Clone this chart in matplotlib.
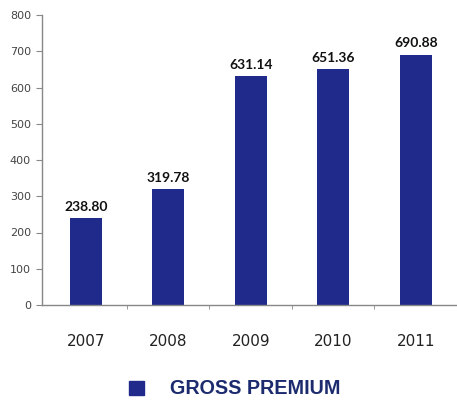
import matplotlib.pyplot as plt
import numpy as np
from matplotlib.patches import Rectangle

years = ["2007", "2008", "2009", "2010", "2011"]
gross_premium = [238.80, 319.78, 631.14, 651.36, 690.88]
y_ticks = [0, 100, 200, 300, 400, 500, 600, 700, 800]

bar_color = "#1f2a8a"
fig = plt.figure(figsize=(4.57, 4.01), dpi=100)
ax = fig.add_axes([42 / 457, 96 / 401, 415 / 457, 290 / 401])

x = np.arange(len(years))
ax.bar(x, gross_premium, width=0.39, color=bar_color, zorder=2)
for xi, v in zip(x, gross_premium):
    ax.text(xi, v + 14, f"{v:.2f}", ha="center", va="bottom",
            fontsize=10, fontweight="bold", family="Lato",
            color="#111111")

ax.set_xlim(-0.53, len(years) - 0.5)
ax.set_ylim(0, 800)
ax.set_yticks(y_ticks)
ax.set_yticklabels([str(t) for t in y_ticks], fontsize=8, color="#444444")
ax.set_xticks(x)
ax.set_xticklabels(years, fontsize=11, color="#222222")
ax.tick_params(axis="x", length=0, pad=21)
ax.set_xticks(x[:-1] + 0.5, minor=True)
ax.tick_params(axis="x", which="minor", length=3, color="#888888", direction="out")
ax.tick_params(axis="y", length=4, color="#888888", pad=4)

for side in ["top", "right"]:
    ax.spines[side].set_visible(False)
for side in ["left", "bottom"]:
    ax.spines[side].set_color("#888888")
    ax.spines[side].set_linewidth(1.0)

# legend
fig.patches.append(Rectangle((129 / 457, 1 - 395 / 401), 15 / 457, 14 / 401,
                             transform=fig.transFigure, color=bar_color))
fig.text(170 / 457, 1 - 388 / 401, "GROSS PREMIUM", fontsize=14.2,
         fontweight="bold", family="Liberation Sans", color="#1c2a6e",
         va="center", ha="left")

fig.savefig("out.png", dpi=100)
